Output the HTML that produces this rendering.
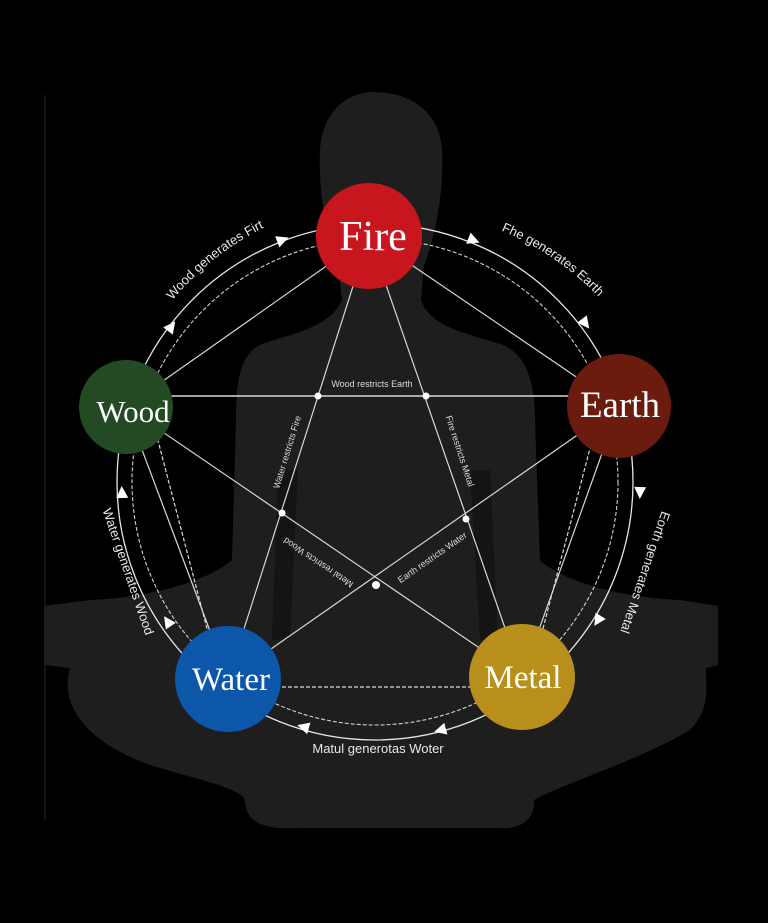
<!DOCTYPE html>
<html><head><meta charset="utf-8"><style>
html,body{margin:0;padding:0;background:#000;}
svg{display:block;}
</style></head><body>
<svg width="768" height="923" viewBox="0 0 768 923" xmlns="http://www.w3.org/2000/svg">
<rect width="768" height="923" fill="#000"/>
<line x1="45" y1="95" x2="45" y2="820" stroke="#1a1a1a" stroke-width="1.5"/>
<!-- silhouette -->
<path fill="#1e1e1e" d="M372 92 C340 94 322 118 320 150 C318 190 326 235 338 265 L342 300 C330 328 290 334 262 344 C240 354 236 380 236 420 L232 560 C210 580 150 598 90 600 L44 606 L44 665 L70 668 C60 700 80 740 150 765 C200 780 240 788 245 800 C245 825 270 830 300 828 L500 828 C530 830 535 810 534 800 C560 785 640 760 690 730 C710 710 706 690 706 668 L718 665 L718 606 L680 600 C620 598 560 580 540 560 L535 420 C535 380 525 352 500 344 C470 334 430 328 421 300 L424 265 C436 235 444 190 442 150 C440 115 415 92 372 92 Z"/>
<path fill="#141414" d="M278 470 L298 470 L290 640 L272 640 Z"/>
<path fill="#141414" d="M470 470 L490 470 L498 640 L480 640 Z"/>
<!-- rings -->
<circle cx="375" cy="482" r="258" fill="none" stroke="#e6e6e6" stroke-width="1.3"/>
<circle cx="375" cy="482" r="243" fill="none" stroke="#cfcfcf" stroke-width="1.1" stroke-dasharray="4 2"/>
<!-- pentagon edges -->
<g stroke="#d8d8d8" stroke-width="1.2" fill="none">
<line x1="126" y1="407" x2="369" y2="236"/>
<line x1="369" y1="236" x2="619" y2="406"/>
<line x1="126" y1="407" x2="228" y2="679"/>
<line x1="619" y1="406" x2="522" y2="677"/>
<line x1="228" y1="687" x2="522" y2="687" stroke-dasharray="4 2"/>
<line x1="150" y1="410" x2="210" y2="640" stroke-dasharray="4 2"/>
<line x1="600" y1="410" x2="540" y2="640" stroke-dasharray="4 2"/>
<!-- pentagram -->
<line x1="369" y1="236" x2="228" y2="679"/>
<line x1="369" y1="236" x2="522" y2="677"/>
<line x1="126" y1="396" x2="619" y2="396" stroke-width="1.5"/>
<line x1="126" y1="407" x2="522" y2="677"/>
<line x1="619" y1="406" x2="228" y2="679"/>
</g>
<g fill="#fff">
<circle cx="318" cy="396" r="3.5"/><circle cx="426" cy="396" r="3.5"/>
<circle cx="282" cy="513" r="3.5"/><circle cx="466" cy="519" r="3.5"/>
<circle cx="376" cy="585" r="4"/>
</g>
<!-- arrows (clockwise) -->
<g fill="#fff">
<polygon points="7,0 -5,-6 -5,6" transform="translate(282,240) rotate(339)"/>
<polygon points="7,0 -5,-6 -5,6" transform="translate(171,327) rotate(307)"/>
<polygon points="7,0 -5,-6 -5,6" transform="translate(473,240) rotate(22)"/>
<polygon points="7,0 -5,-6 -5,6" transform="translate(585,323) rotate(53)"/>
<polygon points="7,0 -5,-6 -5,6" transform="translate(640,492) rotate(92)"/>
<polygon points="7,0 -5,-6 -5,6" transform="translate(598,620) rotate(122)"/>
<polygon points="7,0 -5,-6 -5,6" transform="translate(441,730) rotate(165)"/>
<polygon points="7,0 -5,-6 -5,6" transform="translate(304,727) rotate(196)"/>
<polygon points="7,0 -5,-6 -5,6" transform="translate(168,622) rotate(236)"/>
<polygon points="7,0 -5,-6 -5,6" transform="translate(122,493) rotate(267)"/>
</g>
<defs>
<path id="a1" d="M 150 332 A 277 277 0 0 1 300 213"/>
<path id="a2" d="M 470 220 A 282 282 0 0 1 620 322"/>
</defs>
<g font-family="Liberation Sans, sans-serif" fill="#e8e8e8" font-size="13">
<text><textPath href="#a1" startOffset="50%" text-anchor="middle">Wood generates Firt</textPath></text>
<text><textPath href="#a2" startOffset="50%" text-anchor="middle">Fhe generates Earth</textPath></text>
<text transform="translate(641,571) rotate(109)" text-anchor="middle">Eorth generates Metal</text>
<text transform="translate(124,573) rotate(71)" text-anchor="middle">Water generates Wood</text>
<text x="378" y="753" text-anchor="middle">Matul generotas Woter</text>
</g>
<g font-family="Liberation Sans, sans-serif" fill="#dcdcdc" font-size="9">
<text x="372" y="387" text-anchor="middle">Wood restricts Earth</text>
<text transform="translate(290,453) rotate(-73)" text-anchor="middle">Water restricts Fire</text>
<text transform="translate(457,452) rotate(72)" text-anchor="middle">Fire restricts Metal</text>
<text transform="translate(320,560) rotate(214)" text-anchor="middle">Metal restricts Wood</text>
<text transform="translate(434,560) rotate(-35)" text-anchor="middle">Earth restricts Water</text>
</g>
<!-- element circles -->
<circle cx="369" cy="236" r="53" fill="#c8161e"/>
<circle cx="126" cy="407" r="47" fill="#244a23"/>
<circle cx="619" cy="406" r="52" fill="#6b1c0f"/>
<circle cx="228" cy="679" r="53" fill="#0c57a9"/>
<circle cx="522" cy="677" r="53" fill="#b88f1b"/>
<g font-family="Liberation Serif, serif" fill="#fff" text-anchor="middle">
<text x="373" y="250" font-size="42">Fire</text>
<text x="133" y="422" font-size="31">Wood</text>
<text x="620" y="417" font-size="37">Earth</text>
<text x="231" y="690" font-size="33">Water</text>
<text x="523" y="688" font-size="33">Metal</text>
</g>
</svg>
</body></html>
